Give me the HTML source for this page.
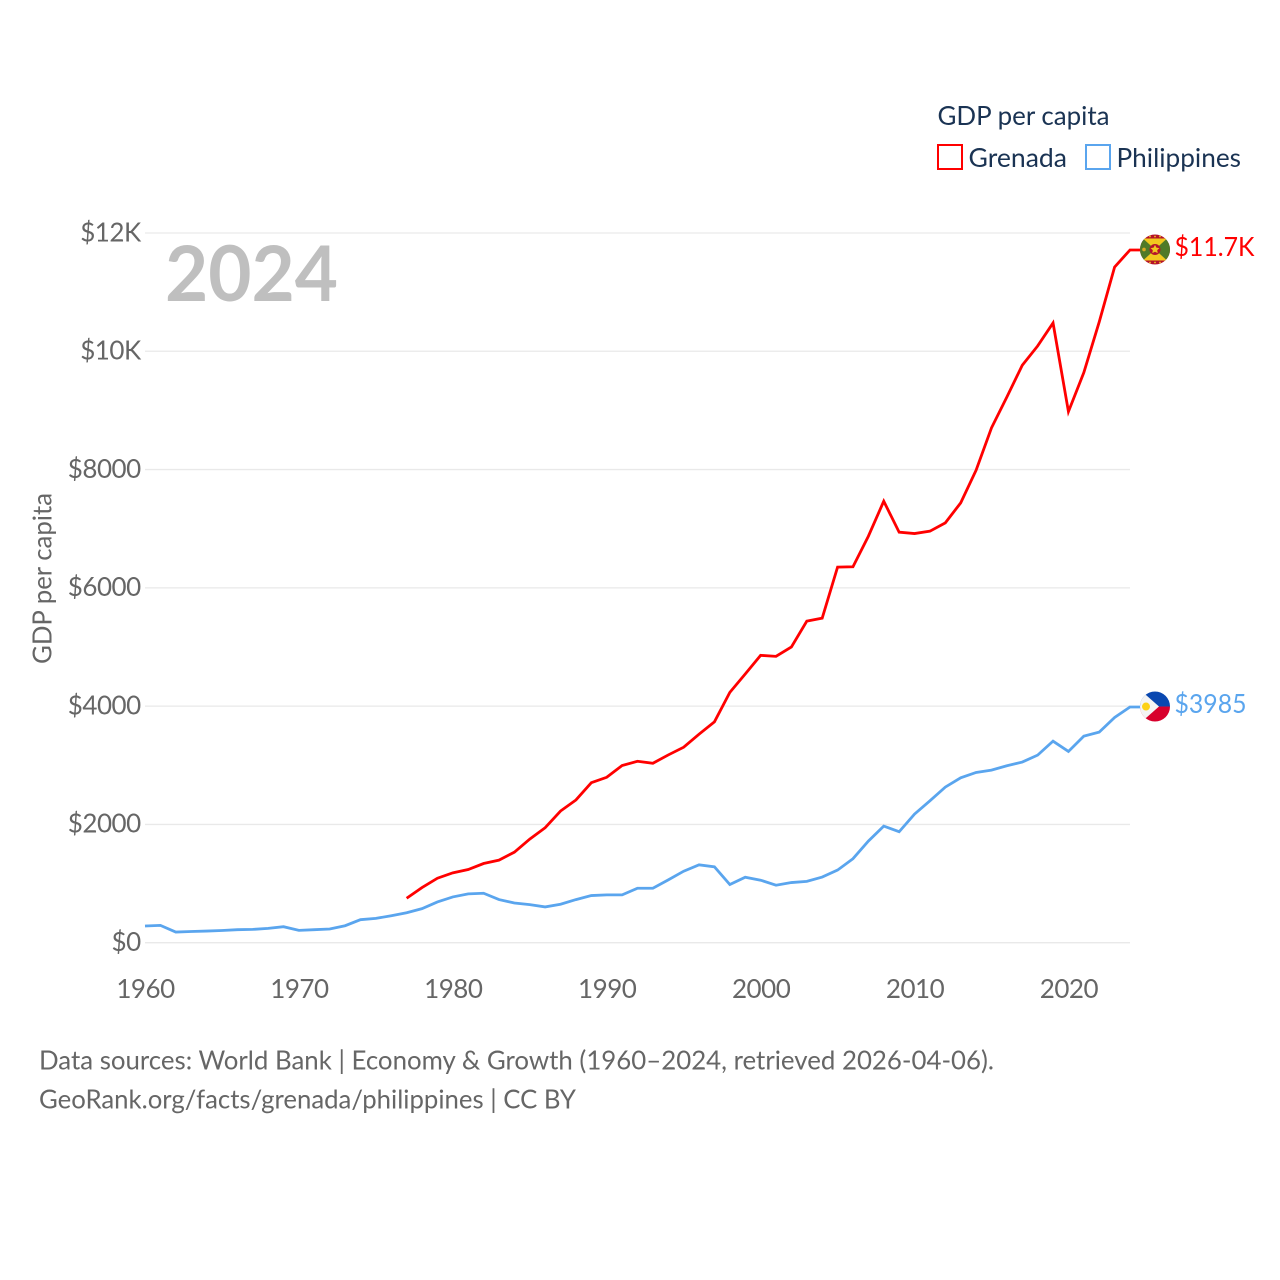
<!DOCTYPE html>
<html lang="en">
<head>
<meta charset="utf-8">
<title>GDP per capita: Grenada vs Philippines</title>
<style>
html,body{margin:0;padding:0;background:#fff;}
svg{display:block;}
text{font-family:"Lato","Carlito","Liberation Sans",sans-serif;}
.tick{letter-spacing:-0.5px;}
</style>
</head>
<body>
<svg id="chart" xmlns="http://www.w3.org/2000/svg" width="1280" height="1280" viewBox="0 0 1280 1280">
  <defs>
    <clipPath id="flagClipA"><circle cx="1155" cy="0" r="15"/></clipPath>
    <clipPath id="flagClipB"><circle cx="1155" cy="0" r="15"/></clipPath>
  </defs>
  <rect x="0" y="0" width="1280" height="1280" fill="#ffffff"/>

  <g id="grid"></g>
  <g id="yticks"></g>
  <g id="xticks"></g>

  <text x="165" y="301" font-size="77" font-weight="700" fill="#bfbfbf" textLength="173" lengthAdjust="spacingAndGlyphs">2024</text>

  <text transform="translate(51.5,578.5) rotate(-90)" text-anchor="middle" font-size="26" fill="#666666" textLength="171" lengthAdjust="spacingAndGlyphs">GDP per capita</text>

  <g id="series"></g>

  <g id="end-grenada">
    <g clip-path="url(#flagClipA)">
      <rect x="1140" y="-15" width="30" height="30" fill="#b5132a"/>
      <rect x="1140" y="-11" width="30" height="22" fill="#4f7a28"/>
      <polygon points="1143,-11 1167,-11 1155,0" fill="#f2c81e"/>
      <polygon points="1143,11 1167,11 1155,0" fill="#f2c81e"/>
      <circle cx="1155" cy="0" r="5.5" fill="#b5132a"/>
      <polygon transform="translate(1155,0)" points="0,-4.6 1.4,-1.9 4.4,-1.4 2.2,0.7 2.7,3.7 0,2.3 -2.7,3.7 -2.2,0.7 -4.4,-1.4 -1.4,-1.9" fill="#f2c81e"/>
      <circle cx="1144" cy="0" r="1.8" fill="#d9a820"/>
      <circle cx="1150" cy="-13" r="0.9" fill="#f2c81e"/>
      <circle cx="1155" cy="-13" r="0.9" fill="#f2c81e"/>
      <circle cx="1160" cy="-13" r="0.9" fill="#f2c81e"/>
      <circle cx="1150" cy="13" r="0.9" fill="#f2c81e"/>
      <circle cx="1155" cy="13" r="0.9" fill="#f2c81e"/>
      <circle cx="1160" cy="13" r="0.9" fill="#f2c81e"/>
    </g>
    <text x="1174.5" y="6.5" font-size="26" fill="#ff0000" textLength="80" lengthAdjust="spacingAndGlyphs">$11.7K</text>
  </g>

  <g id="end-philippines">
    <g clip-path="url(#flagClipB)">
      <rect x="1140" y="-15" width="30" height="15" fill="#0a48b0"/>
      <rect x="1140" y="0" width="30" height="15" fill="#d8002c"/>
      <polygon points="1140,-15 1142,-15 1159,0 1142,15 1140,15" fill="#f4f4f4"/>
      <circle cx="1146" cy="0" r="4" fill="#fcd116"/>
    </g>
    <text x="1174.5" y="6.5" font-size="26" fill="#5aa5ee" textLength="72" lengthAdjust="spacingAndGlyphs">$3985</text>
  </g>

  <g>
    <text x="937.5" y="125" font-size="26" fill="#1a3353" textLength="172" lengthAdjust="spacingAndGlyphs">GDP per capita</text>
    <g>
      <rect x="938" y="145" width="24" height="24" fill="none" stroke="#ff0000" stroke-width="2"/>
      <text x="968.5" y="167" font-size="26" fill="#1a3353" textLength="98.5" lengthAdjust="spacingAndGlyphs">Grenada</text>
    </g>
    <g>
      <rect x="1086" y="145" width="24" height="24" fill="none" stroke="#5aa5ee" stroke-width="2"/>
      <text x="1116.5" y="167" font-size="26" fill="#1a3353" textLength="124.5" lengthAdjust="spacingAndGlyphs">Philippines</text>
    </g>
  </g>

  <text x="39" y="1069.7" font-size="26" fill="#666666" textLength="955" lengthAdjust="spacingAndGlyphs">Data sources: World Bank | Economy &amp; Growth (1960–2024, retrieved 2026-04-06).</text>
  <text x="39" y="1108.7" font-size="26" fill="#666666" textLength="537" lengthAdjust="spacingAndGlyphs">GeoRank.org/facts/grenada/philippines | CC BY</text>
</svg>

<script>
const years = [1960,1961,1962,1963,1964,1965,1966,1967,1968,1969,1970,1971,1972,1973,1974,1975,1976,1977,1978,1979,1980,1981,1982,1983,1984,1985,1986,1987,1988,1989,1990,1991,1992,1993,1994,1995,1996,1997,1998,1999,2000,2001,2002,2003,2004,2005,2006,2007,2008,2009,2010,2011,2012,2013,2014,2015,2016,2017,2018,2019,2020,2021,2022,2023,2024];
const grenadaValues = [null,null,null,null,null,null,null,null,null,null,null,null,null,null,null,null,null,751,932,1090,1181,1237,1339,1396,1531,1752,1944,2226,2413,2706,2797,2995,3068,3034,3175,3305,3526,3735,4232,4543,4859,4842,5000,5437,5488,6350,6356,6873,7465,6941,6918,6958,7099,7437,7989,8704,9228,9763,10090,10479,8980,9640,10496,11425,11713];
const philippinesValues = [282,293,180,189,197,206,220,225,242,270,208,220,231,287,389,411,456,507,576,689,774,825,836,729,672,644,605,650,729,797,808,808,921,921,1062,1209,1316,1283,983,1107,1057,972,1017,1037,1110,1228,1420,1718,1972,1876,2175,2400,2631,2789,2879,2918,2992,3054,3172,3408,3234,3493,3561,3808,3985];
const yTickValues = [0,2000,4000,6000,8000,10000,12000];
const yTickLabels = ["$0","$2000","$4000","$6000","$8000","$10K","$12K"];
const xTickValues = [1960,1970,1980,1990,2000,2010,2020];

const SVG_NS = "http://www.w3.org/2000/svg";
function xScale(year){ return 145 + (year - 1960) * (985 / 64); }
function yScale(value){ return 942.7 - value * (709.7 / 12000); }

const grid = document.getElementById("grid");
const yticks = document.getElementById("yticks");
const xticks = document.getElementById("xticks");
const seriesGroup = document.getElementById("series");

yTickValues.forEach(function(v, i){
  const line = document.createElementNS(SVG_NS, "line");
  
  
  line.setAttribute("x1", 145);
  line.setAttribute("x2", 1130);
  line.setAttribute("y1", yScale(v));
  line.setAttribute("y2", yScale(v));
  line.setAttribute("stroke", "#e9e9e9");
  line.setAttribute("stroke-width", "1.3");
  grid.appendChild(line);

  const label = document.createElementNS(SVG_NS, "text");
  
  
  label.setAttribute("class", "tick");
  label.setAttribute("x", 140.7);
  label.setAttribute("y", yScale(v) + 8.3);
  label.setAttribute("text-anchor", "end");
  label.setAttribute("font-size", "26");
  label.setAttribute("fill", "#666666");
  label.textContent = yTickLabels[i];
  yticks.appendChild(label);
});

xTickValues.forEach(function(t){
  const label = document.createElementNS(SVG_NS, "text");
  
  
  label.setAttribute("class", "tick");
  label.setAttribute("x", xScale(t) + 0.5);
  label.setAttribute("y", 998);
  label.setAttribute("text-anchor", "middle");
  label.setAttribute("font-size", "26");
  label.setAttribute("fill", "#666666");
  label.textContent = String(t);
  xticks.appendChild(label);
});

function linePath(values){
  let d = "";
  let last = null;
  values.forEach(function(v, i){
    if (v === null) return;
    d += (d ? "L" : "M") + xScale(years[i]).toFixed(2) + " " + yScale(v).toFixed(2);
    last = v;
  });
  d += "L" + (xScale(years[years.length - 1]) + 10).toFixed(2) + " " + yScale(last).toFixed(2);
  return d;
}

const philippinesLine = document.createElementNS(SVG_NS, "path");


philippinesLine.setAttribute("d", linePath(philippinesValues));
philippinesLine.setAttribute("fill", "none");
philippinesLine.setAttribute("stroke", "#5aa5ee");
philippinesLine.setAttribute("stroke-width", "2.8");
philippinesLine.setAttribute("stroke-linejoin", "miter");
seriesGroup.appendChild(philippinesLine);

const grenadaLine = document.createElementNS(SVG_NS, "path");


grenadaLine.setAttribute("d", linePath(grenadaValues));
grenadaLine.setAttribute("fill", "none");
grenadaLine.setAttribute("stroke", "#ff0000");
grenadaLine.setAttribute("stroke-width", "2.8");
grenadaLine.setAttribute("stroke-linejoin", "miter");
seriesGroup.appendChild(grenadaLine);

document.getElementById("end-grenada").setAttribute("transform", "translate(0," + (yScale(grenadaValues[grenadaValues.length - 1]) - 0.5) + ")");
document.getElementById("end-philippines").setAttribute("transform", "translate(0," + (yScale(philippinesValues[philippinesValues.length - 1]) - 0.5) + ")");
</script>
</body>
</html>
